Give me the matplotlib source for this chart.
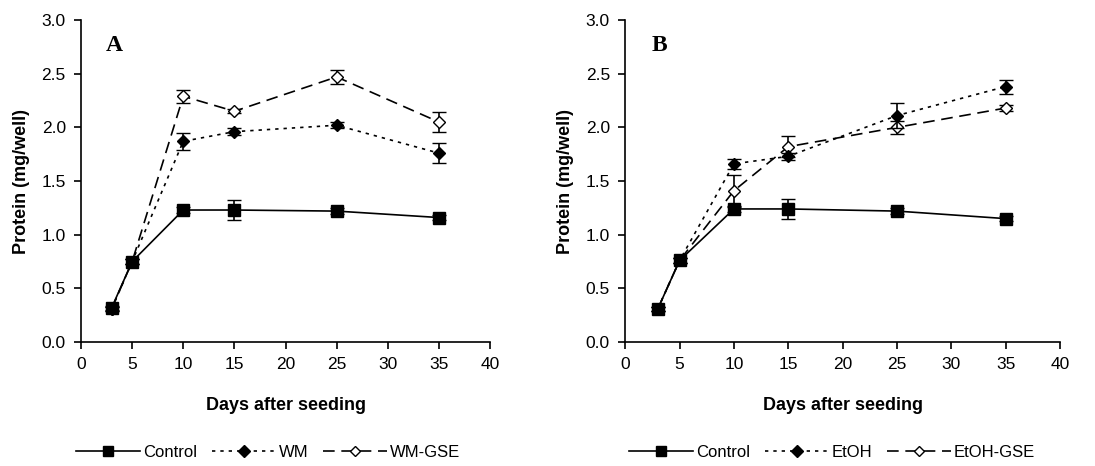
import numpy as np
import matplotlib.pyplot as plt

plt.rcParams['font.family'] = ['Liberation Sans', 'DejaVu Sans']

# Data
days = [3, 5, 10, 15, 25, 35]

ctrl_a = [0.32, 0.75, 1.23, 1.23, 1.22, 1.16]
ctrl_a_err = [0.02, 0.02, 0.03, 0.09, 0.03, 0.02]
wm = [0.31, 0.75, 1.87, 1.96, 2.02, 1.76]
wm_err = [0.02, 0.02, 0.08, 0.03, 0.03, 0.09]
wm_gse = [0.31, 0.75, 2.29, 2.15, 2.47, 2.05]
wm_gse_err = [0.02, 0.02, 0.06, 0.02, 0.065, 0.09]

ctrl_b = [0.31, 0.76, 1.24, 1.24, 1.22, 1.15]
ctrl_b_err = [0.02, 0.02, 0.03, 0.09, 0.03, 0.02]
etoh = [0.31, 0.76, 1.66, 1.73, 2.11, 2.38]
etoh_err = [0.02, 0.02, 0.045, 0.03, 0.12, 0.065]
etoh_gse = [0.31, 0.76, 1.41, 1.82, 2.00, 2.18]
etoh_gse_err = [0.02, 0.02, 0.15, 0.10, 0.06, 0.03]

fig = plt.figure(figsize=(10.95, 4.66), dpi=100)
ax_a = fig.add_axes([0.074, 0.266, 0.3735, 0.691])
ax_b = fig.add_axes([0.571, 0.266, 0.397, 0.691])

def panel(ax, letter, series, labels, legx):
    styles = [
        dict(ls='-', marker='s', mfc='black', ms=8, zorder=4),
        dict(ls=(0, (2, 3)), marker='D', mfc='black', ms=6.5, zorder=3),
        dict(ls=(0, (7, 4)), marker='D', mfc='white', ms=6, zorder=2),
    ]
    handles = []
    for (y, e), lab, st in zip(series, labels, styles):
        h = ax.errorbar(days, y, yerr=e, color='black', lw=1.2, capsize=5,
                        elinewidth=1.2, capthick=1.2, mec='black', mew=1,
                        label=lab, **st)
        handles.append(h)
    ax.set_xlim(0, 40)
    ax.set_ylim(0, 3.0)
    ax.set_xticks(range(0, 41, 5))
    ax.set_yticks(np.arange(0, 3.01, 0.5))
    ax.set_yticklabels([f'{v:.1f}' for v in np.arange(0, 3.01, 0.5)])
    ax.tick_params(direction='out', length=5, width=1.2, labelsize=12.5, pad=6)
    for s in ['top', 'right']:
        ax.spines[s].set_visible(False)
    for s in ['left', 'bottom']:
        ax.spines[s].set_linewidth(1.2)
    ax.set_xlabel('Days after seeding', fontsize=13, fontweight='bold', labelpad=18)
    ax.set_ylabel('Protein (mg/well)', fontsize=13, fontweight='bold', labelpad=8)
    ax.text(0.06, 0.955, letter, transform=ax.transAxes, fontsize=17,
            fontweight='bold', family='Liberation Serif', va='top')
    lines = [h[0] for h in handles]
    fig.legend(lines, labels, loc='center', bbox_to_anchor=(legx, 0.03),
               ncol=3, frameon=False, fontsize=12, handlelength=3.8,
               columnspacing=0.9, handletextpad=0.2, markerscale=0.9)

panel(ax_a, 'A', [(ctrl_a, ctrl_a_err), (wm, wm_err), (wm_gse, wm_gse_err)],
      ['Control', 'WM', 'WM-GSE'], 0.245)
panel(ax_b, 'B', [(ctrl_b, ctrl_b_err), (etoh, etoh_err), (etoh_gse, etoh_gse_err)],
      ['Control', 'EtOH', 'EtOH-GSE'], 0.76)

fig.savefig('out.png', dpi=100)
